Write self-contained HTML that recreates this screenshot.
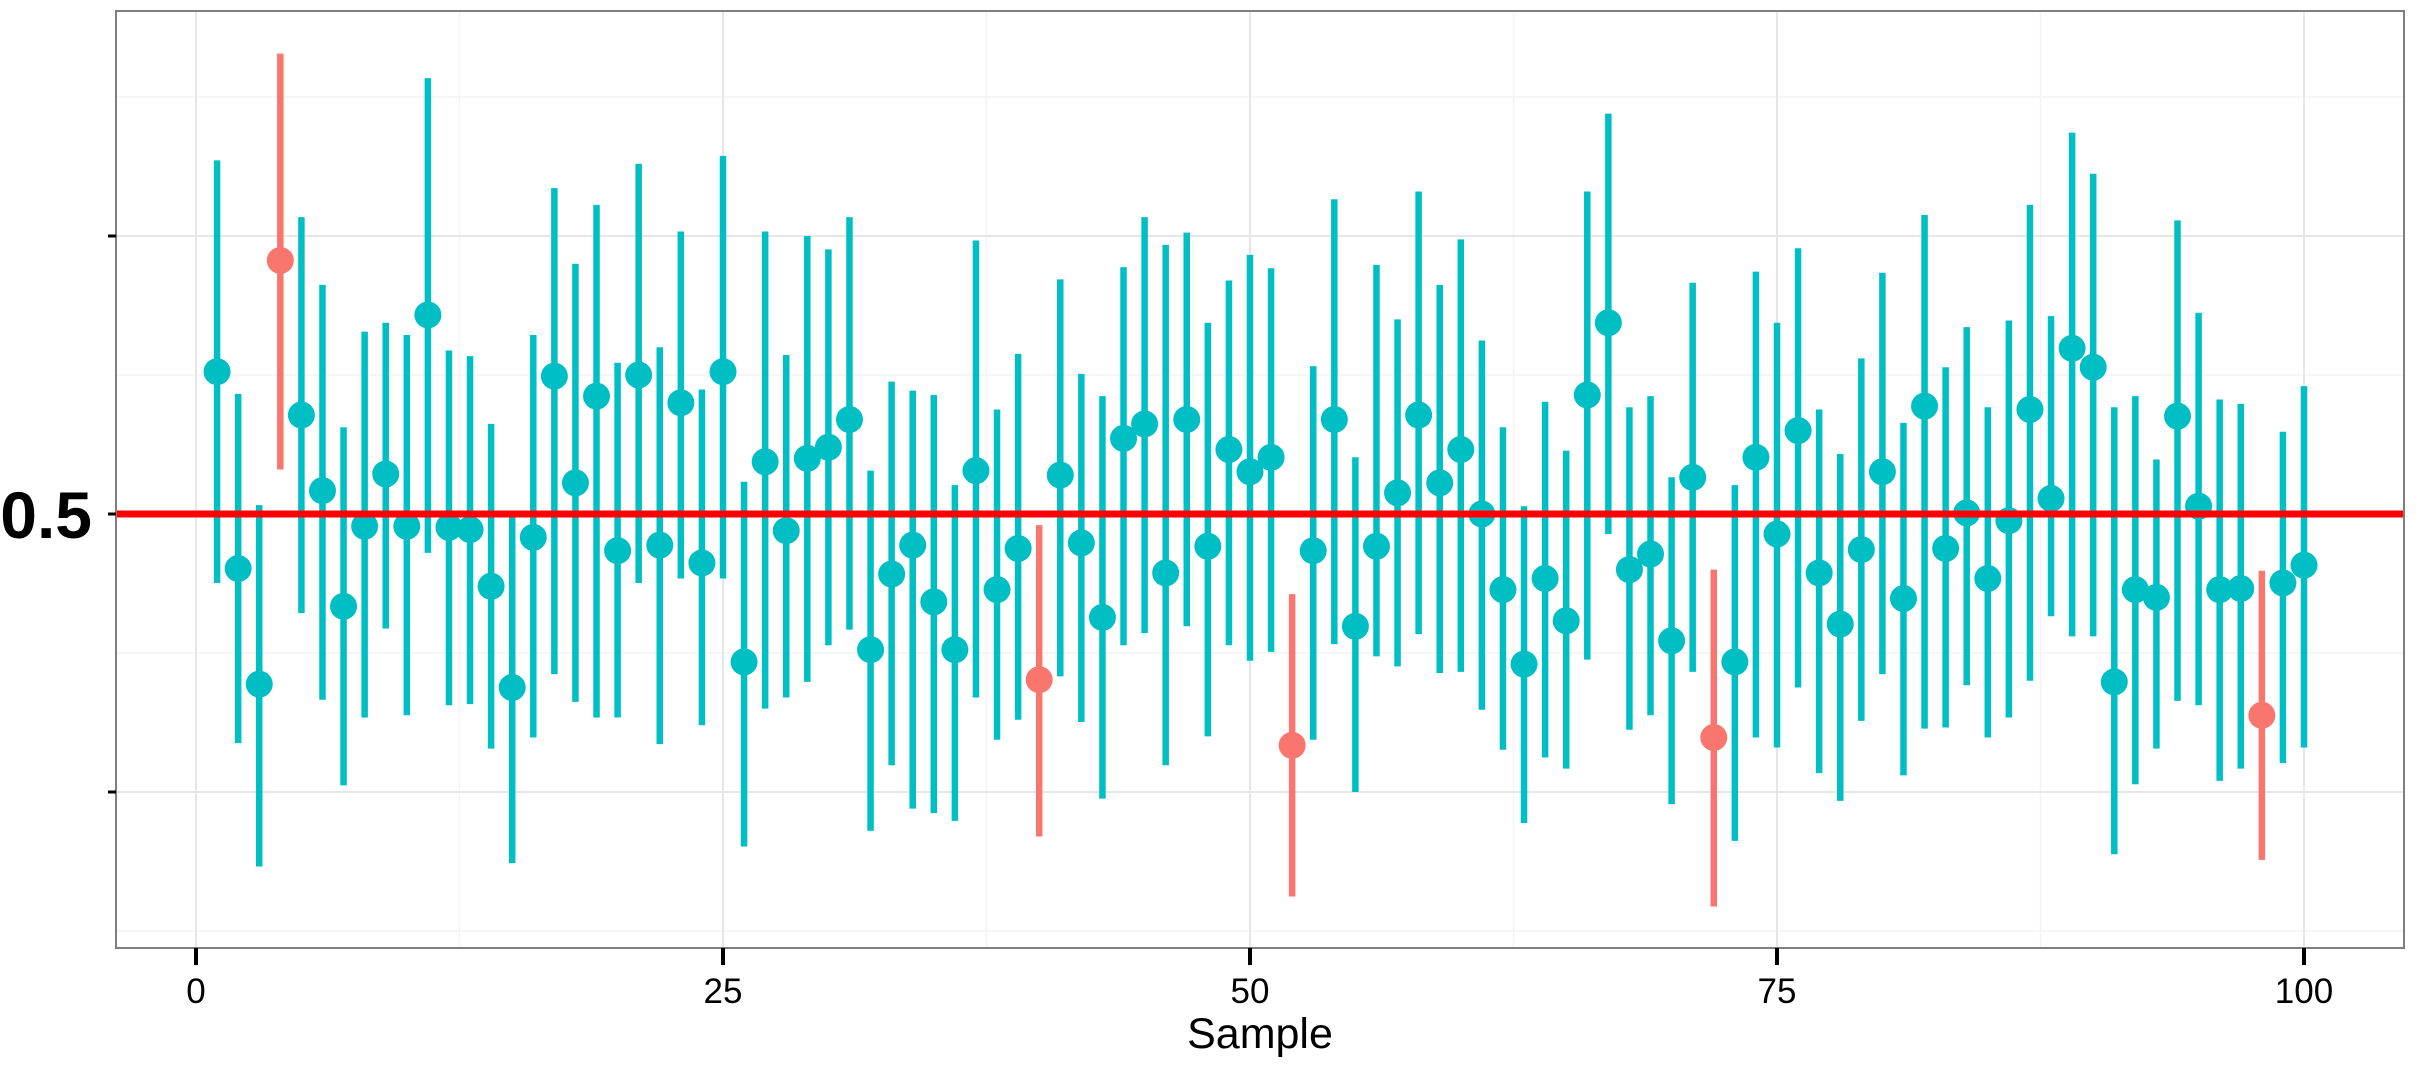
<!DOCTYPE html>
<html><head><meta charset="utf-8"><style>
html,body{margin:0;padding:0;background:#fff;}
svg{display:block;font-family:"Liberation Sans",Arial,sans-serif;}
</style></head><body>
<svg id="chart" width="2421" height="1068" viewBox="0 0 2421 1068" xmlns="http://www.w3.org/2000/svg">
<rect x="116" y="11" width="2288" height="937" fill="#fff"/>
<g id="grid"></g>
<g id="marks"></g>
<line x1="116" x2="2404" y1="514" y2="514" stroke="#ff0000" stroke-width="7"/>
<rect x="116" y="11" width="2288" height="937" fill="none" stroke="#7f7f7f" stroke-width="2"/>
<g id="axes"></g>
<text x="92" y="538" text-anchor="end" font-size="66" font-weight="bold" fill="#000">0.5</text>
<text x="1260" y="1048" text-anchor="middle" font-size="43" fill="#000">Sample</text>
</svg>
<script>
const means=[0.628,0.451,0.347,0.728,0.589,0.521,0.417,0.489,0.536,0.489,0.679,0.488,0.486,0.435,0.344,0.479,0.624,0.528,0.606,0.467,0.625,0.472,0.6,0.456,0.628,0.367,0.547,0.485,0.55,0.56,0.585,0.378,0.446,0.472,0.421,0.378,0.539,0.432,0.469,0.351,0.535,0.474,0.407,0.568,0.581,0.447,0.585,0.471,0.558,0.538,0.551,0.292,0.467,0.585,0.399,0.471,0.519,0.589,0.528,0.558,0.5,0.432,0.365,0.442,0.404,0.607,0.672,0.45,0.464,0.386,0.533,0.299,0.367,0.551,0.482,0.575,0.447,0.401,0.468,0.538,0.424,0.597,0.469,0.501,0.442,0.494,0.594,0.514,0.649,0.632,0.349,0.432,0.425,0.588,0.507,0.432,0.433,0.319,0.438,0.454];
const uppers=[0.818,0.608,0.508,0.914,0.767,0.706,0.578,0.664,0.672,0.661,0.892,0.647,0.642,0.581,0.502,0.661,0.793,0.725,0.778,0.636,0.815,0.65,0.754,0.612,0.822,0.529,0.754,0.643,0.75,0.738,0.767,0.539,0.619,0.611,0.607,0.526,0.746,0.594,0.644,0.49,0.711,0.626,0.606,0.722,0.767,0.742,0.753,0.672,0.71,0.733,0.721,0.428,0.633,0.783,0.551,0.724,0.675,0.79,0.706,0.747,0.656,0.578,0.507,0.601,0.557,0.79,0.86,0.596,0.606,0.533,0.708,0.45,0.526,0.718,0.672,0.739,0.594,0.554,0.64,0.717,0.582,0.769,0.632,0.668,0.596,0.674,0.778,0.678,0.843,0.806,0.596,0.606,0.549,0.764,0.681,0.603,0.599,0.449,0.574,0.615];
const lowers=[0.438,0.294,0.183,0.54,0.411,0.333,0.256,0.317,0.397,0.319,0.465,0.328,0.329,0.289,0.186,0.299,0.356,0.331,0.317,0.317,0.438,0.293,0.442,0.31,0.442,0.201,0.325,0.335,0.349,0.382,0.396,0.215,0.274,0.235,0.231,0.224,0.335,0.297,0.315,0.21,0.354,0.313,0.244,0.382,0.393,0.274,0.399,0.3,0.382,0.368,0.376,0.156,0.297,0.383,0.25,0.372,0.363,0.392,0.357,0.358,0.324,0.288,0.222,0.281,0.271,0.369,0.482,0.306,0.319,0.239,0.358,0.147,0.206,0.299,0.29,0.344,0.267,0.242,0.314,0.356,0.265,0.307,0.308,0.346,0.299,0.317,0.35,0.408,0.39,0.39,0.194,0.257,0.289,0.332,0.328,0.26,0.271,0.189,0.276,0.29];
const xTicks=[0,25,50,75,100];
const xTickLabels=["0","25","50","75","100"];
const yTicks=[0.25,0.5,0.75];
const yMinor=[0.125,0.375,0.625,0.875];
const refValue=0.5;

const NS="http://www.w3.org/2000/svg";
const L=116,R=2404,T=11,B=948;
function xs(v){return 196+v*(2108/100);}
function ys(v){return 514-(v-0.5)*1112;}
function mk(tag,attrs,parent){const e=document.createElementNS(NS,tag);for(const k in attrs)e.setAttribute(k,attrs[k]);parent.appendChild(e);return e;}
const grid=document.getElementById('grid'),marks=document.getElementById('marks'),axes=document.getElementById('axes');
yMinor.forEach(v=>{const e=mk('line',{x1:L,x2:R,y1:ys(v),y2:ys(v),stroke:'#f4f4f4','stroke-width':1.5},grid);

});
for(let i=0;i<xTicks.length-1;i++){const v=(xTicks[i]+xTicks[i+1])/2;const e=mk('line',{x1:xs(v),x2:xs(v),y1:T,y2:B,stroke:'#f4f4f4','stroke-width':1.5},grid);

}
yTicks.forEach(v=>{const e=mk('line',{x1:L,x2:R,y1:ys(v),y2:ys(v),stroke:'#e6e6e6','stroke-width':2},grid);


const t=mk('line',{x1:L-8,x2:L,y1:ys(v),y2:ys(v),stroke:'#000','stroke-width':3},axes);

});
xTicks.forEach((v,i)=>{const e=mk('line',{x1:xs(v),x2:xs(v),y1:T,y2:B,stroke:'#e6e6e6','stroke-width':2},grid);


const t=mk('line',{x1:xs(v),x2:xs(v),y1:B,y2:B+17,stroke:'#000','stroke-width':4},axes);


const lb=mk('text',{x:xs(v),y:1003,'text-anchor':'middle','font-size':35,fill:'#000'},axes);
lb.textContent=xTickLabels[i];

});
means.forEach((m,i)=>{const s=i+1;const out=uppers[i]<refValue||lowers[i]>refValue;const c=out?'#f8766d':'#00bfc4';
const g=mk('g',{},marks);


const bar=mk('line',{x1:xs(s),x2:xs(s),y1:ys(uppers[i]),y2:ys(lowers[i]),stroke:c,'stroke-width':6.5},g);


const p=mk('circle',{cx:xs(s),cy:ys(m),r:13.5,fill:c},g);

});
</script>
</body></html>
